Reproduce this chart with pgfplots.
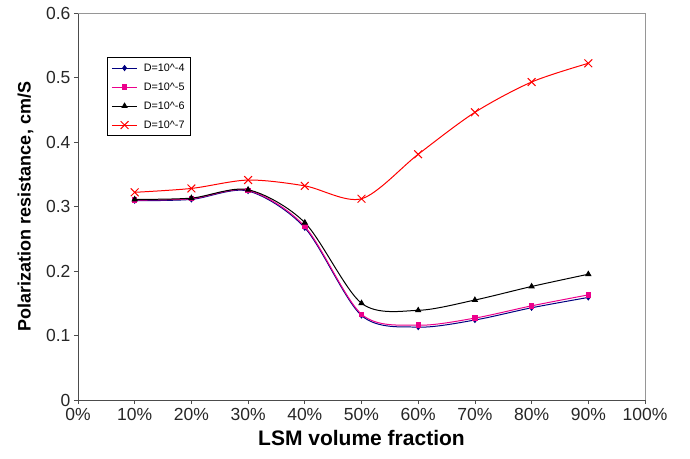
\documentclass[border=0pt]{standalone}
\usepackage{pgfplots}
\pgfplotsset{compat=1.18}
\usepackage{fontspec}
\setmainfont{Liberation Sans}
\definecolor{navy}{RGB}{0,0,128}
\definecolor{axgray}{RGB}{150,150,150}
\begin{document}
\begin{tikzpicture}
\begin{axis}[
  scale only axis,
  width=567bp, height=387bp,
  xmin=0, xmax=100, ymin=0, ymax=0.6,
  axis x line=bottom, axis y line=left,
  axis line style={-, color=black!70, line width=0.8pt},
  xtick={0,10,...,100},
  xticklabels={0\%,10\%,20\%,30\%,40\%,50\%,60\%,70\%,80\%,90\%,100\%},
  ytick={0,0.1,...,0.6},
  yticklabel style={/pgf/number format/fixed,/pgf/number format/precision=1},
  /pgf/number format/assume math mode=true,
  tick style={color=black!70, line width=0.8pt},
  tick align=outside,
  major tick length=4bp,
  ticklabel style={font=\fontsize{17.5bp}{19bp}\selectfont, color=black!85},
  xticklabel style={yshift=-1bp},
  xlabel={\textbf{LSM volume fraction}},
  ylabel={\textbf{Polarization resistance, cm/S}},
  xlabel style={font=\fontsize{21bp}{23bp}\selectfont, yshift=-3bp},
  ylabel style={font=\fontsize{18bp}{20bp}\selectfont, yshift=6bp},
  clip=false,
  legend style={at={(0.051,0.886)}, anchor=north west, draw=black, line width=0.8pt,
    font=\fontsize{10.8bp}{12bp}\selectfont, row sep=6bp, column sep=4bp,
    inner xsep=4bp, inner ysep=4bp, legend cell align=left},
  legend image code/.code={\draw[mark repeat=2,mark phase=2] plot coordinates {(0cm,0cm) (0.45cm,0cm) (0.9cm,0cm)};},
  every axis plot/.append style={line width=1pt, smooth, tension=0.5},
]
\draw[axgray, line width=0.9pt] (rel axis cs:0,1) -- (rel axis cs:1,1) -- (rel axis cs:1,0);
\addplot[navy, mark=diamond*, mark size=2.4bp, mark options={solid}] coordinates {
(10,0.309) (20,0.311) (30,0.324) (40,0.267) (50,0.131) (60,0.113) (70,0.124) (80,0.143) (90,0.159)};
\addlegendentry{D=10\textasciicircum-4}
\addplot[magenta, mark=square*, mark size=2.2bp] coordinates {
(10,0.310) (20,0.312) (30,0.325) (40,0.269) (50,0.133) (60,0.116) (70,0.127) (80,0.146) (90,0.163)};
\addlegendentry{D=10\textasciicircum-5}
\addplot[black, mark=triangle*, mark size=2.8bp] coordinates {
(10,0.311) (20,0.313) (30,0.326) (40,0.275) (50,0.150) (60,0.139) (70,0.155) (80,0.176) (90,0.195)};
\addlegendentry{D=10\textasciicircum-6}
\addplot[red, mark=x, mark size=5.5bp] coordinates {
(10,0.322) (20,0.328) (30,0.341) (40,0.332) (50,0.312) (60,0.381) (70,0.446) (80,0.493) (90,0.522)};
\addlegendentry{D=10\textasciicircum-7}
\end{axis}
\pgfresetboundingbox
\path (current axis.south west) ++(-78bp,-59bp) rectangle ++(690bp,459bp);
\end{tikzpicture}
\end{document}
